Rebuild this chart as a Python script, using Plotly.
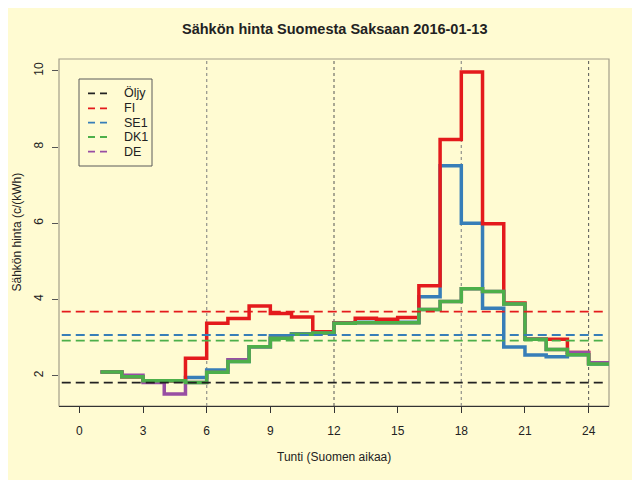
import plotly.graph_objects as go

# hourly prices c/kWh, hour h is drawn from h to h+1
hours = list(range(1, 25))
fi = [2.10, 1.975, 1.87, 1.87, 2.46, 3.375, 3.50, 3.83, 3.63, 3.54, 3.155, 3.39,
      3.51, 3.48, 3.53, 4.36, 8.20, 9.97, 5.99, 3.91, 2.965, 2.955, 2.61, 2.33]
se1 = [2.10, 1.975, 1.87, 1.87, 1.95, 2.15, 2.37, 2.76, 3.05, 3.10, 3.13, 3.38,
       3.40, 3.40, 3.40, 4.07, 7.51, 6.00, 3.77, 2.75, 2.54, 2.50, 2.55, 2.31]
dk1 = [2.10, 1.975, 1.87, 1.87, 1.82, 2.09, 2.37, 2.76, 2.98, 3.09, 3.12, 3.375,
       3.39, 3.39, 3.39, 3.74, 3.95, 4.28, 4.21, 3.88, 2.955, 2.69, 2.55, 2.31]
de = [2.10, 2.01, 1.82, 1.52, 1.82, 2.09, 2.42, 2.76, 2.98, 3.09, 3.12, 3.375,
      3.39, 3.39, 3.39, 3.74, 3.95, 4.28, 4.21, 3.88, 2.955, 2.69, 2.61, 2.34]

# daily levels (dashed lines)
oljy_level = 1.816
fi_mean = 3.68
se1_mean = 3.068
dk1_mean = 2.92

names = ["Öljy", "FI", "SE1", "DK1", "DE"]
colors = ["#222222", "#E41A1C", "#377EB8", "#4DAF4A", "#984EA3"]
xticks = [0, 3, 6, 9, 12, 15, 18, 21, 24]
yticks = [2, 4, 6, 8, 10]
vlines = [6, 12, 18, 24]

bg = "#FFFBD2"
FONT = "Liberation Sans"

# page puts the figure 8px in from the corner
OFF = 8
# plot area in screen pixels
L, R, T, B = 59, 609, 59, 406
W, H = 640, 480

def px(x):
    return (x - L) / (R - L)

def py(y):
    return (B - y) / (B - T)

fig = go.Figure()

# drawing order: SE1, FI, DE, DK1 on top
for vals, col in [(se1, colors[2]), (fi, colors[1]), (de, colors[4]), (dk1, colors[3])]:
    fig.add_trace(go.Scatter(
        x=hours + [hours[-1] + 1], y=vals + [vals[-1]],
        mode="lines", line=dict(color=col, width=3.5, shape="hv"),
        showlegend=False, hoverinfo="skip"))

shapes = []
# plot box
shapes.append(dict(type="rect", xref="paper", yref="paper", x0=0, x1=1, y0=0, y1=1,
                   line=dict(color="#A39E8A", width=1.2), layer="below"))
# dotted hour markers
for v in vlines:
    dark = v % 12 == 0
    shapes.append(dict(type="line", xref="x", yref="paper", x0=v, x1=v, y0=0, y1=1,
                       line=dict(color="#555555" if dark else "#9A9A90",
                                 width=1 if dark else 1.3, dash="dot"),
                       layer="below"))
# dashed levels
for lev, col in [(oljy_level, colors[0]), (fi_mean, colors[1]),
                 (se1_mean, colors[2]), (dk1_mean, colors[3])]:
    shapes.append(dict(type="line", xref="paper", yref="y", x0=0.005, x1=0.99,
                       y0=lev, y1=lev, line=dict(color=col, width=1.8, dash="9px,5px")))

# legend box (drawn by hand, R style)
shapes.append(dict(type="rect", xref="paper", yref="paper",
                   x0=px(79), x1=px(152), y0=py(166), y1=py(79),
                   line=dict(color="#5A5A5A", width=1), fillcolor=bg))
annotations = []
leg_y = [93.3, 108.3, 122.7, 137, 151.7]
for name, col, yy in zip(names, colors, leg_y):
    shapes.append(dict(type="line", xref="paper", yref="paper", x0=px(88), x1=px(109),
                       y0=py(yy), y1=py(yy), line=dict(color=col, width=1.8, dash="7px,5px")))
    annotations.append(dict(xref="paper", yref="paper", x=px(122), y=py(yy),
                            text=name, showarrow=False, xanchor="left", yanchor="middle",
                            font=dict(family=FONT, size=12.5, color="#222222")))

# titles
annotations.append(dict(xref="paper", yref="paper", x=0.5, y=py(29.5),
                        text="<b>Sähkön hinta Suomesta Saksaan 2016-01-13</b>",
                        showarrow=False, xanchor="center", yanchor="middle",
                        font=dict(family=FONT, size=14.5, color="#222222")))
annotations.append(dict(xref="paper", yref="paper", x=0.5, y=py(457),
                        text="Tunti (Suomen aikaa)", showarrow=False,
                        xanchor="center", yanchor="middle",
                        font=dict(family=FONT, size=12, color="#222222")))
annotations.append(dict(xref="paper", yref="paper", x=px(16), y=0.5,
                        text="Sähkön hinta (c/(kWh)", showarrow=False, textangle=-90,
                        xanchor="center", yanchor="middle",
                        font=dict(family=FONT, size=12, color="#222222")))

fig.update_layout(
    width=W, height=H,
    margin=dict(l=L - OFF, r=W - R + OFF, t=T - OFF, b=H - B + OFF),
    paper_bgcolor=bg, plot_bgcolor=bg,
    shapes=shapes, annotations=annotations,
    font=dict(family=FONT, size=12, color="#222222"),
    showlegend=False,
)
fig.update_xaxes(range=[-0.96, 24.96], tickvals=xticks, ticks="outside", ticklen=6,
                 tickcolor="#333333", showgrid=False, zeroline=False,
                 showline=True, linecolor="#333333", linewidth=1,
                 ticklabelstandoff=8, tickfont=dict(family=FONT, size=12))
fig.update_yaxes(range=[1.205, 10.31], tickvals=yticks, ticks="outside", ticklen=6,
                 tickcolor="#555555", showgrid=False, zeroline=False, showline=False,
                 tickangle=-90, ticklabelstandoff=4, tickfont=dict(family=FONT, size=12))

fig.write_html("out.html")
